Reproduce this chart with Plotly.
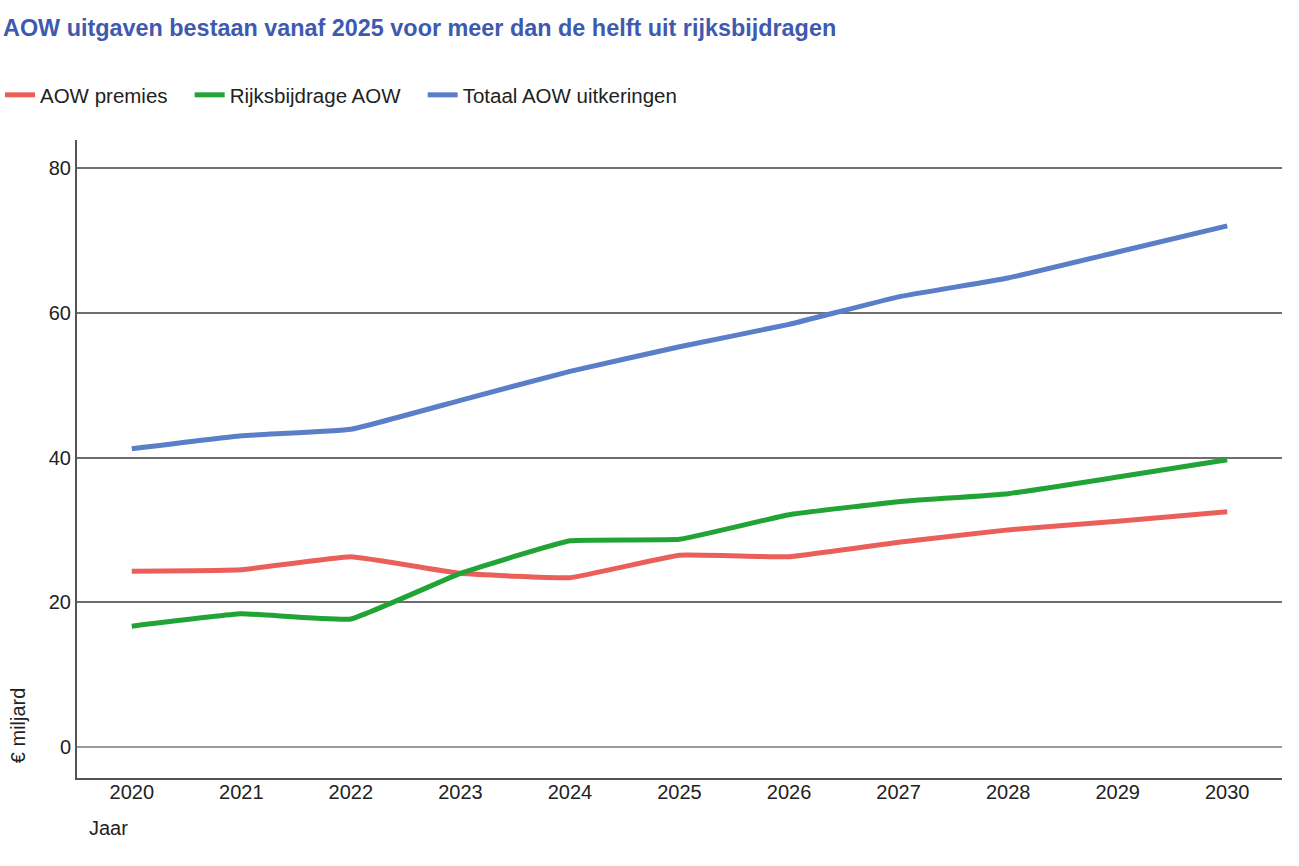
import plotly.graph_objects as go

# jaren en bedragen (miljard euro)
jaren = ["2020", "2021", "2022", "2023", "2024", "2025", "2026", "2027", "2028", "2029", "2030"]
aow_premies = [24.3, 24.5, 26.3, 24.0, 23.4, 26.5, 26.3, 28.3, 30.0, 31.2, 32.5]
rijksbijdrage = [16.7, 18.4, 17.7, 24.0, 28.5, 28.7, 32.1, 33.9, 35.0, 37.3, 39.7]
totaal_uitkeringen = [41.2, 43.0, 43.9, 47.9, 51.9, 55.3, 58.4, 62.2, 64.8, 68.4, 72.0]

series = [
    ("AOW premies", aow_premies, "#EB5F5A"),
    ("Rijksbijdrage AOW", rijksbijdrage, "#21A336"),
    ("Totaal AOW uitkeringen", totaal_uitkeringen, "#5A7EC7"),
]

fig = go.Figure()
for name, vals, col in series:
    # extra ruimte achter de naam, zoals in het origineel
    fig.add_trace(go.Scatter(
        x=jaren, y=vals, name=name + "\u00a0\u00a0\u00a0", mode="lines",
        line=dict(color=col, width=5, shape="spline", smoothing=0.3),
    ))

font = "Liberation Sans, Arial, sans-serif"
txt = "#222222"

fig.update_layout(
    width=1299, height=866,
    paper_bgcolor="white", plot_bgcolor="white",
    margin=dict(l=77, r=17, t=140, b=88, autoexpand=False),
    font=dict(family=font, size=20, color=txt),
    title=dict(
        text="<b>AOW uitgaven bestaan vanaf 2025 voor meer dan de helft uit rijksbijdragen</b>",
        xref="container", x=0.0023, xanchor="left",
        yref="container", y=1 - 28 / 866, yanchor="middle",
        font=dict(family=font, size=23.4, color="#3D5AAF"),
    ),
    legend=dict(
        orientation="h", xref="container", x=0.0, xanchor="left",
        yref="container", y=1 - 95 / 866, yanchor="middle",
        font=dict(size=20.5, color=txt), itemwidth=30,
        traceorder="normal",
    ),
    showlegend=True,
)

fig.update_xaxes(
    type="category", range=[-0.5, 10.5],
    showgrid=False, showline=True, linecolor="#555555", linewidth=2,
    ticks="", tickfont=dict(size=20, color=txt), ticklabelstandoff=-5,
)
fig.update_yaxes(
    range=[-4.28, 83.87], tickvals=[0, 20, 40, 60, 80],
    showgrid=True, gridcolor="#6e6e6e", gridwidth=1.5,
    zeroline=True, zerolinecolor="#9a9a9a", zerolinewidth=2,
    showline=True, linecolor="#555555", linewidth=2,
    ticks="", tickfont=dict(size=20, color=txt),
)

fig.add_annotation(
    text="€ miljard", xref="paper", yref="paper",
    x=-0.049, y=0.02, xanchor="center", yanchor="bottom",
    textangle=-90, showarrow=False, font=dict(size=20, color=txt),
)
fig.add_annotation(
    text="Jaar", xref="paper", yref="paper",
    x=0.008, y=-0.078, xanchor="left", yanchor="middle",
    showarrow=False, font=dict(size=20, color=txt),
)

fig.write_html("out.html", config={"displayModeBar": False},
               post_script="document.body.style.margin='0px';")
